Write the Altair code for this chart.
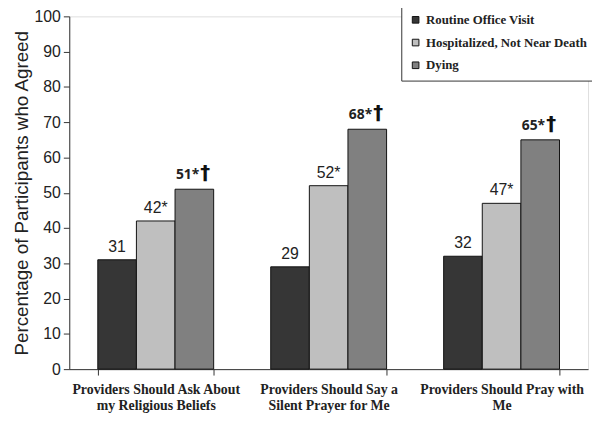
import altair as alt
import pandas as pd

categories = [
    "Providers Should Ask About|my Religious Beliefs",
    "Providers Should Say a|Silent Prayer for Me",
    "Providers Should Pray with|Me",
]
series = ["Routine Office Visit", "Hospitalized, Not Near Death", "Dying"]
routine = [31, 29, 32]
hospitalized = [42, 52, 47]
dying = [51, 68, 65]
routine_labels = ["31", "29", "32"]
hospitalized_labels = ["42*", "52*", "47*"]
dying_labels = ["51*", "68*", "65*"]
dying_marks = ["†", "†", "†"]
colors = ["#363636", "#bfbfbf", "#808080"]

rows = []
for s, vals, labs in zip(series, [routine, hospitalized, dying],
                         [routine_labels, hospitalized_labels, dying_labels]):
    for i, (c, v, l) in enumerate(zip(categories, vals, labs)):
        mark = dying_marks[i] if s == "Dying" else ""
        rows.append({"category": c, "series": s, "value": v, "label": l,
                     "mark": mark})
df = pd.DataFrame(rows)

x = alt.X("category:N", sort=categories, title=None,
          scale=alt.Scale(paddingInner=0.33, paddingOuter=0.165),
          axis=alt.Axis(labelExpr="split(datum.label, '|')", labelAngle=0,
                        labelFont="Liberation Serif", labelFontWeight="bold",
                        labelFontSize=14, labelColor="#222", labelLineHeight=16,
                        labelPadding=8, tickBand="extent", tickSize=6,
                        tickColor="#333", domainColor="#333", labelLimit=300))
xo = alt.XOffset("series:N", sort=series,
                 scale=alt.Scale(paddingInner=0, paddingOuter=0))
y = alt.Y("value:Q", title="Percentage of Participants who Agreed",
          scale=alt.Scale(domain=[0, 100]),
          axis=alt.Axis(values=list(range(0, 101, 10)), grid=False,
                        labelFont="Liberation Sans", labelFontSize=16,
                        labelColor="#222", titleFont="Liberation Sans",
                        titleFontSize=19, titleFontWeight="normal",
                        titleColor="#222", titlePadding=3, tickSize=6,
                        tickColor="#333", domainColor="#333", labelPadding=3))

bars = alt.Chart(df).mark_bar(stroke="#111", strokeWidth=1).encode(
    x=x, xOffset=xo, y=y,
    color=alt.Color("series:N", sort=series,
                    scale=alt.Scale(domain=series, range=colors),
                    legend=alt.Legend(title=None, orient="none", legendX=336,
                                      legendY=-11, symbolType="square",
                                      symbolSize=45, symbolStrokeColor="#111",
                                      symbolStrokeWidth=1,
                                      labelFont="Liberation Serif",
                                      labelFontWeight="bold", labelFontSize=13,
                                      labelColor="#222", rowPadding=9,
                                      padding=8, strokeColor="#333",
                                      fillColor="white", labelLimit=300)),
)

text_reg = alt.Chart(df).transform_filter(
    alt.datum.series != "Dying"
).mark_text(baseline="bottom", dy=-5, font="Liberation Sans", fontSize=16,
            color="#222").encode(x=x, xOffset=xo, y=y, text="label:N")

text_bold = alt.Chart(df).transform_filter(
    alt.datum.series == "Dying"
).mark_text(baseline="bottom", dy=-7, dx=5, align="right", font="Open Sans",
            fontSize=14, fontWeight="bold", color="#222").encode(
    x=x, xOffset=xo, y=y, text="label:N")

text_dagger = alt.Chart(df).transform_filter(
    alt.datum.series == "Dying"
).mark_text(baseline="bottom", dy=-6, dx=6, align="left", font="DejaVu Sans",
            fontSize=20, fontWeight="bold", color="#111").encode(
    x=x, xOffset=xo, y=y, text="mark:N")

chart = alt.layer(bars, text_reg, text_bold, text_dagger).properties(
    width=525, height=357,
    padding={"left": 62, "top": 6, "right": 4, "bottom": 48},
    autosize=alt.AutoSizeParams(type="none"),
).configure_view(stroke=None).configure(background="white")

chart.save("out.html", embed_options={"renderer": "svg", "actions": False})
